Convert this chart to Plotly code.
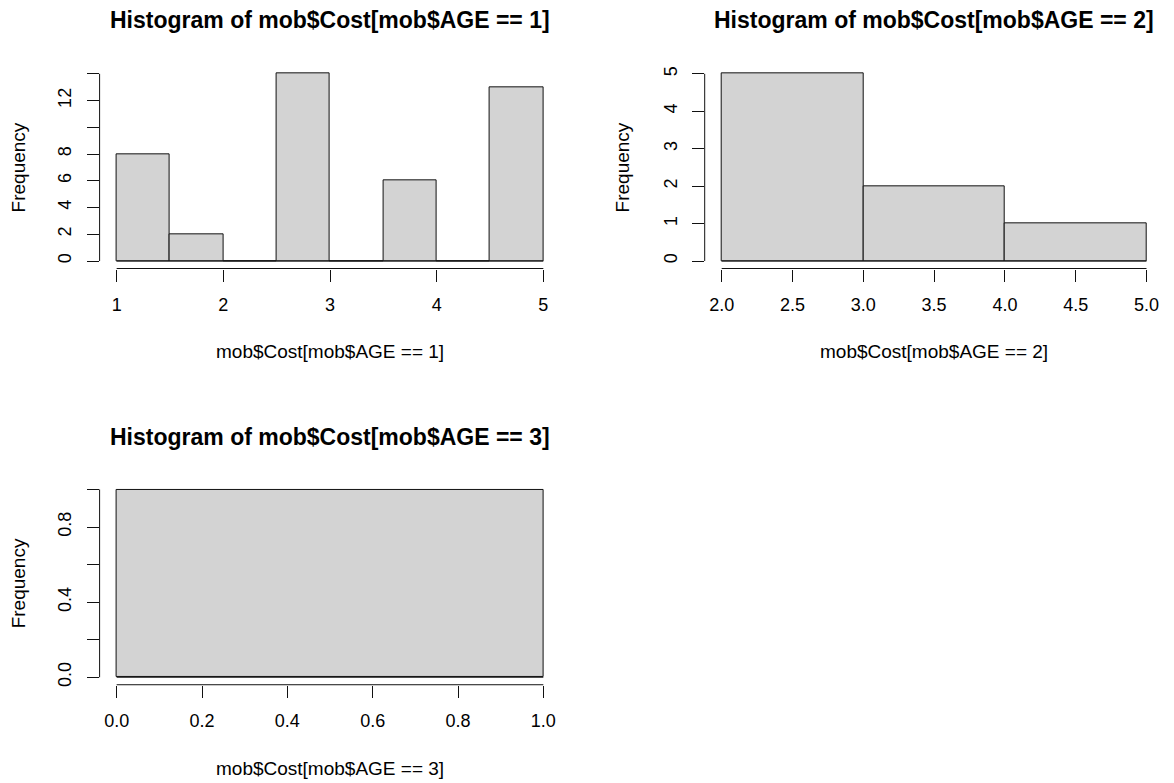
import plotly.graph_objects as go

# ---------------- data ----------------
age1_edges = [1.0, 1.5, 2.0, 2.5, 3.0, 3.5, 4.0, 4.5, 5.0]
age1_counts = [8, 2, 0, 14, 0, 6, 0, 13]
age1_xticks = [1, 2, 3, 4, 5]
age1_xtext = ["1", "2", "3", "4", "5"]
age1_yticks = [0, 2, 4, 6, 8, 10, 12, 14]
age1_ytext = ["0", "2", "4", "6", "8", "", "12", ""]

age2_edges = [2.0, 3.0, 4.0, 5.0]
age2_counts = [5, 2, 1]
age2_xticks = [2.0, 2.5, 3.0, 3.5, 4.0, 4.5, 5.0]
age2_xtext = ["2.0", "2.5", "3.0", "3.5", "4.0", "4.5", "5.0"]
age2_yticks = [0, 1, 2, 3, 4, 5]
age2_ytext = ["0", "1", "2", "3", "4", "5"]

age3_edges = [0.0, 1.0]
age3_counts = [1]
age3_xticks = [0.0, 0.2, 0.4, 0.6, 0.8, 1.0]
age3_xtext = ["0.0", "0.2", "0.4", "0.6", "0.8", "1.0"]
age3_yticks = [0.0, 0.2, 0.4, 0.6, 0.8, 1.0]
age3_ytext = ["0.0", "", "0.4", "", "0.8", ""]

titles = ["Histogram of mob$Cost[mob$AGE == 1]",
          "Histogram of mob$Cost[mob$AGE == 2]",
          "Histogram of mob$Cost[mob$AGE == 3]"]
xlabels = ["mob$Cost[mob$AGE == 1]",
           "mob$Cost[mob$AGE == 2]",
           "mob$Cost[mob$AGE == 3]"]
ylabel = "Frequency"

# ---------------- layout geometry (pixels) ----------------
W, H = 1174, 783
FONT = "Liberation Sans, Arial, sans-serif"
AXC = "#111111"
BAR_FILL = "#D3D3D3"

# plot regions: (left, right, top, bottom) in pixels
regions = [
    (99.6, 560.4, 66.5, 269.2),
    (704.7, 1163.5, 66.5, 269.2),
    (99.6, 560.4, 483.2, 686.5),
]
title_y = [20, 20, 438]
xlabel_y = [352, 352, 770]
ylabel_x = [18, 622, 18]

panels = [
    (age1_edges, age1_counts, age1_xticks, age1_xtext, age1_yticks, age1_ytext),
    (age2_edges, age2_counts, age2_xticks, age2_xtext, age2_yticks, age2_ytext),
    (age3_edges, age3_counts, age3_xticks, age3_xtext, age3_yticks, age3_ytext),
]


def fx(px):
    return px / W


def fy(py):
    return 1 - py / H


fig = go.Figure()
shapes = []
annotations = []
layout_axes = {}

for i, (edges, counts, xt, xtt, yt, ytt) in enumerate(panels):
    n = i + 1
    xname = "x" if n == 1 else f"x{n}"
    yname = "y" if n == 1 else f"y{n}"
    xkey = "xaxis" if n == 1 else f"xaxis{n}"
    ykey = "yaxis" if n == 1 else f"yaxis{n}"

    centers = [(edges[k] + edges[k + 1]) / 2 for k in range(len(counts))]
    widths = [edges[k + 1] - edges[k] for k in range(len(counts))]

    # baseline along all bins (R draws zero-height bins as a line)
    fig.add_trace(go.Scatter(
        x=[edges[0], edges[-1]], y=[0, 0], mode="lines",
        line=dict(color=AXC, width=1), xaxis=xname, yaxis=yname,
        showlegend=False, hoverinfo="skip"))
    fig.add_trace(go.Bar(
        x=centers, y=counts, width=widths,
        marker=dict(color=BAR_FILL, line=dict(color=AXC, width=1)),
        xaxis=xname, yaxis=yname, showlegend=False))

    # R-like 4% axis extension
    x0, x1 = min(edges[0], xt[0]), max(edges[-1], xt[-1])
    dx = (x1 - x0) * 0.04
    y0, y1 = 0, max(counts)
    dy = (y1 - y0) * 0.04

    l, r, t, b = regions[i]
    layout_axes[xkey] = dict(
        domain=[fx(l), fx(r)], range=[x0 - dx, x1 + dx], anchor=yname,
        tickmode="array", tickvals=xt, ticktext=xtt,
        showgrid=False, zeroline=False, showline=False,
        ticks="outside", ticklen=12, tickwidth=1, tickcolor=AXC,
        tickfont=dict(family=FONT, size=18, color="#000"),
        ticklabelstandoff=8, fixedrange=True)
    layout_axes[ykey] = dict(
        domain=[fy(b), fy(t)], range=[y0 - dy, y1 + dy], anchor=xname,
        tickmode="array", tickvals=yt, ticktext=ytt, tickangle=-90,
        showgrid=False, zeroline=False, showline=False,
        ticks="outside", ticklen=12, tickwidth=1, tickcolor=AXC,
        tickfont=dict(family=FONT, size=18, color="#000"),
        ticklabelstandoff=8, fixedrange=True)

    # R axis lines span first to last tick
    shapes.append(dict(type="line", xref=xname, yref=f"{yname} domain",
                       x0=xt[0], x1=xt[-1], y0=0, y1=0,
                       line=dict(color=AXC, width=1)))
    shapes.append(dict(type="line", xref=f"{xname} domain", yref=yname,
                       x0=0, x1=0, y0=yt[0], y1=yt[-1],
                       line=dict(color=AXC, width=1)))

    cx = (l + r) / 2
    annotations.append(dict(text=f"<b>{titles[i]}</b>", x=fx(cx), y=fy(title_y[i]),
                            xref="paper", yref="paper", showarrow=False,
                            xanchor="center", yanchor="middle",
                            font=dict(family=FONT, size=23, color="#000")))
    annotations.append(dict(text=xlabels[i], x=fx(cx), y=fy(xlabel_y[i]),
                            xref="paper", yref="paper", showarrow=False,
                            xanchor="center", yanchor="middle",
                            font=dict(family=FONT, size=19, color="#000")))
    annotations.append(dict(text=ylabel, x=fx(ylabel_x[i]), y=fy((t + b) / 2),
                            xref="paper", yref="paper", showarrow=False,
                            textangle=-90, xanchor="center", yanchor="middle",
                            font=dict(family=FONT, size=19, color="#000")))

fig.update_layout(
    width=W, height=H, margin=dict(l=0, r=0, t=0, b=0),
    paper_bgcolor="white", plot_bgcolor="white",
    bargap=0, shapes=shapes, annotations=annotations,
    showlegend=False, **layout_axes)

fig.write_html("out.html")
